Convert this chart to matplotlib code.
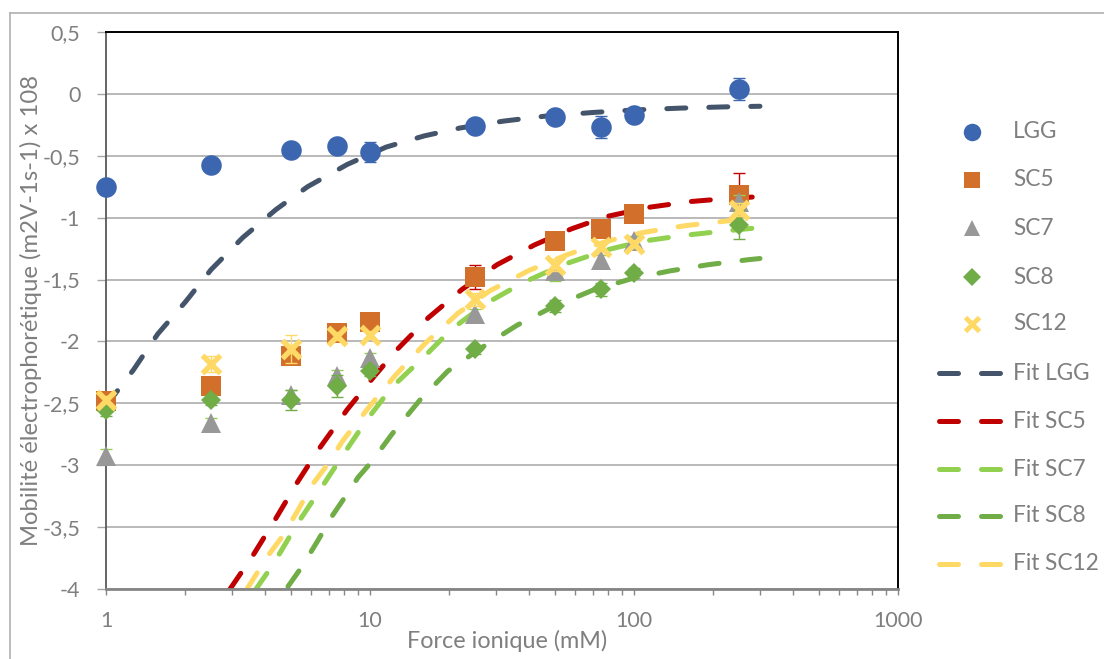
import matplotlib
matplotlib.use('Agg')
import matplotlib.pyplot as plt
from matplotlib.lines import Line2D
from matplotlib.ticker import FixedLocator, FuncFormatter, NullFormatter

plt.rcParams['font.family'] = ['Lato', 'DejaVu Sans']

# ---------------- data ----------------
ionic = [1, 2.5, 5, 7.5, 10, 25, 50, 75, 100, 250]

lgg = [-0.75, -0.575, -0.45, -0.425, -0.47, -0.26, -0.185, -0.265, -0.17, 0.04]
lgg_err = [0.03, 0.03, 0.03, 0.03, 0.08, 0.03, 0.03, 0.09, 0.04, 0.09]
sc5 = [-2.48, -2.36, -2.12, -1.93, -1.84, -1.48, -1.19, -1.09, -0.97, -0.815]
sc5_err = [0.04, 0.04, 0.04, 0.03, 0.03, 0.10, 0.03, 0.03, 0.03, 0.175]
sc7 = [-2.925, -2.655, -2.43, -2.28, -2.13, -1.78, -1.43, -1.34, -1.19, -0.87]
sc7_err = [0.06, 0.04, 0.04, 0.05, 0.04, 0.04, 0.08, 0.04, 0.04, 0.05]
sc8 = [-2.55, -2.47, -2.47, -2.36, -2.24, -2.065, -1.715, -1.58, -1.446, -1.056]
sc8_err = [0.05, 0.04, 0.08, 0.09, 0.04, 0.04, 0.05, 0.05, 0.04, 0.115]
sc12 = [-2.47, -2.185, -2.06, -1.957, -1.944, -1.66, -1.38, -1.236, -1.21, -0.935]
sc12_err = [0.03, 0.065, 0.115, 0.03, 0.03, 0.05, 0.05, 0.03, 0.03, 0.05]

fit_lgg_x = [1, 1.27, 1.57, 2.0, 2.5, 3.3, 4.4, 5.8, 8.2, 11.5, 16, 22, 32, 46, 70, 100, 150, 220, 300]
fit_lgg_y = [-2.52, -2.23, -1.94, -1.68, -1.42, -1.16, -0.935, -0.75, -0.57, -0.43, -0.34, -0.275,
             -0.22, -0.18, -0.15, -0.13, -0.115, -0.105, -0.10]
fit_sc5_x = [2.95, 3.6, 4.37, 5.3, 6.35, 8.2, 10.3, 12.6, 16.6, 22.3, 30.3, 42, 58, 79, 115, 163, 227, 300]
fit_sc5_y = [-4.0, -3.73, -3.44, -3.14, -2.88, -2.55, -2.29, -2.07, -1.81, -1.58, -1.38, -1.22,
             -1.09, -0.99, -0.915, -0.87, -0.845, -0.83]
fit_sc7_x = [3.7, 4.3, 5.28, 6.46, 7.83, 9.6, 12.1, 16.1, 20.4, 27.7, 38, 53.9, 79, 108, 152, 215, 300]
fit_sc7_y = [-4.0, -3.80, -3.48, -3.20, -2.93, -2.65, -2.37, -2.12, -1.90, -1.69, -1.525, -1.38,
             -1.26, -1.19, -1.145, -1.11, -1.08]
fit_sc8_x = [4.89, 5.52, 6.3, 7.24, 8.26, 9.0, 10.2, 12.1, 15.5, 19.7, 26.5, 36, 49.3, 70, 99, 137, 191, 270, 300]
fit_sc8_y = [-3.98, -3.82, -3.62, -3.40, -3.22, -3.10, -2.965, -2.75, -2.47, -2.24, -2.05, -1.87,
             -1.72, -1.585, -1.49, -1.43, -1.38, -1.34, -1.33]
fit_sc12_x = [3.42, 4.11, 4.64, 5.28, 6.08, 6.87, 7.9, 10, 12.4, 16.1, 21.6, 28.5, 39.7, 55.7, 79, 108, 156, 218, 300]
fit_sc12_y = [-4.0, -3.73, -3.58, -3.38, -3.15, -3.0, -2.80, -2.52, -2.28, -2.02, -1.77, -1.59,
              -1.43, -1.30, -1.19, -1.12, -1.065, -1.03, -1.0]

series_labels = ['LGG', 'SC5', 'SC7', 'SC8', 'SC12']
fit_labels = ['Fit LGG', 'Fit SC5', 'Fit SC7', 'Fit SC8', 'Fit SC12']
yticks = [-4, -3.5, -3, -2.5, -2, -1.5, -1, -0.5, 0, 0.5]
xticks = [1, 10, 100, 1000]

# ---------------- styles ----------------
text_color = '#7F7F7F'
W, H = 1104, 659
fig = plt.figure(figsize=(W / 100, H / 100), dpi=100)
ax = fig.add_axes([106 / W, 70 / H, 792 / W, 557 / H])

series_y = [lgg, sc5, sc7, sc8, sc12]
series_err = [lgg_err, sc5_err, sc7_err, sc8_err, sc12_err]
mstyles = [
    dict(marker='o', ms=14.8, color='#3D66B0', mew=0),
    dict(marker='s', ms=14, color='#D2702B', mew=0),
    dict(marker='^', ms=14, color='#989898', mew=0),
    dict(marker='D', ms=10.3, color='#70AD47', mew=0),
    dict(marker='x', ms=12.5, color='#FFD966', mew=3.9),
]
ecolors = ['#3D66B0', '#C00000', '#92D050', '#70AD47', '#FFD966']

fits = [(fit_lgg_x, fit_lgg_y), (fit_sc5_x, fit_sc5_y), (fit_sc7_x, fit_sc7_y),
        (fit_sc8_x, fit_sc8_y), (fit_sc12_x, fit_sc12_y)]
fit_colors = ['#44546A', '#C00000', '#92D050', '#70AD47', '#FFD966']
fit_lw = 3.6
dash = (3.8, 4.6)

for (fx, fy), c in zip(fits, fit_colors):
    ax.plot(fx, fy, color=c, lw=fit_lw, dashes=dash, dash_capstyle='round', zorder=2)

for i, (y, e, st, ec) in enumerate(zip(series_y, series_err, mstyles, ecolors)):
    ax.errorbar(ionic, y, yerr=e, fmt='none', ecolor=ec, elinewidth=1.0, capsize=4,
                capthick=1.0, zorder=3 + i, clip_on=False)
    ax.plot(ionic, y, linestyle='none', marker=st['marker'], ms=st['ms'],
            color=st['color'], mec=st['color'], mew=st['mew'], zorder=3.5 + i, clip_on=False)

ax.set_xscale('log')
ax.set_xlim(1, 1000)
ax.set_ylim(-4, 0.5)
ax.xaxis.set_major_locator(FixedLocator(xticks))
ax.xaxis.set_major_formatter(FuncFormatter(lambda v, p: f"{v:g}"))
minor = [m * d for d in [1, 10, 100] for m in range(2, 10)]
ax.xaxis.set_minor_locator(FixedLocator(minor))
ax.xaxis.set_minor_formatter(NullFormatter())
ax.yaxis.set_major_locator(FixedLocator(yticks))
ax.yaxis.set_major_formatter(FuncFormatter(lambda v, p: f"{v:g}".replace('.', ',')))

ax.yaxis.grid(True, color='#A6A6A6', lw=1.1, zorder=0)
ax.set_axisbelow(True)

ax.tick_params(axis='y', which='major', length=6.5, width=1, color='#A6A6A6', pad=12,
               labelsize=15.5, labelcolor=text_color)
ax.tick_params(axis='x', which='both', length=4, width=1, color='#868686', pad=12,
               labelsize=15.5, labelcolor=text_color, direction='out')

for s in ['top', 'right']:
    ax.spines[s].set_color('black')
    ax.spines[s].set_linewidth(1.4)
ax.spines['left'].set_color('#595959')
ax.spines['left'].set_linewidth(1.3)
ax.spines['bottom'].set_color('#868686')
ax.spines['bottom'].set_linewidth(2.0)

ax.set_xlabel('Force ionique (mM)', fontsize=16.8, color=text_color, va='center')
ax.xaxis.set_label_coords((507 - 106) / 792, (589 - 641) / 557)
ax.set_ylabel('Mobilité électrophorétique (m2V-1s-1) x 108', fontsize=17.2,
              color=text_color, va='center')
ax.yaxis.set_label_coords((31 - 106) / 792, (589 - 311) / 557)

# ---------------- legend (manual) ----------------
def fx_(px):
    return px / W

def fy_(py):
    return 1 - py / H

row_y = [132, 180, 228, 277, 324, 373, 421, 469, 516, 564]
for i, (lab, st) in enumerate(zip(series_labels, mstyles)):
    yy = row_y[i]
    fig.add_artist(Line2D([fx_(972)], [fy_(yy)], transform=fig.transFigure, linestyle='none',
                          marker=st['marker'], ms=st['ms'] * 0.85, color=st['color'],
                          mec=st['color'], mew=st['mew'] * 0.9))
    fig.text(fx_(1013), fy_(yy), lab, fontsize=16.3, color=text_color, va='center', ha='left')
for j, (lab, c) in enumerate(zip(fit_labels, fit_colors)):
    yy = row_y[5 + j]
    fig.add_artist(Line2D([fx_(938.5), fx_(999.5)], [fy_(yy), fy_(yy)], transform=fig.transFigure,
                          color=c, lw=fit_lw, dashes=dash, dash_capstyle='round'))
    fig.text(fx_(1013), fy_(yy), lab, fontsize=16.3, color=text_color, va='center', ha='left')

# chart outer frame
fig.add_artist(Line2D([fx_(10), fx_(10)], [0, fy_(13)], transform=fig.transFigure,
                      color='#B0B0B0', lw=1.2))
fig.add_artist(Line2D([fx_(10), 1], [fy_(13), fy_(13)], transform=fig.transFigure,
                      color='#B0B0B0', lw=1.2))

fig.savefig('out.png', dpi=100)
